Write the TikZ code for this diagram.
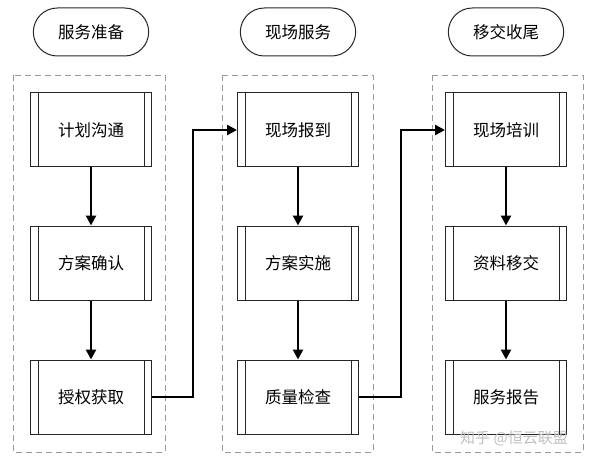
\documentclass[tikz,border=0pt]{standalone}
\usepackage{fontspec}
\setmainfont{Noto Sans CJK SC}
\usetikzlibrary{arrows.meta,shapes.misc}
\begin{document}
\begin{tikzpicture}[x=1pt,y=-1pt,
  term/.style={draw=black!85,line width=1pt,rounded rectangle,minimum width=122pt,minimum height=48pt,font=\fontsize{16.5}{19}\selectfont},
  proc/.style={draw=black!85,line width=1pt,rectangle,minimum width=121pt,minimum height=74pt,font=\fontsize{16.5}{19}\selectfont,
    path picture={\draw[black!85,line width=1pt]
      ([xshift=7.5pt]path picture bounding box.north west) -- ([xshift=7.5pt]path picture bounding box.south west)
      ([xshift=-7.5pt]path picture bounding box.north east) -- ([xshift=-7.5pt]path picture bounding box.south east);}},
  grp/.style={draw=black!40,dash pattern=on 6pt off 4pt,line width=0.9pt},
  flow/.style={line width=2.8pt,-{Triangle[length=10pt,width=10pt]}}
]
\useasboundingbox (0,0) rectangle (593,462);
% groups
\draw[grp] (13,75) rectangle (165,452);
\draw[grp] (222,75) rectangle (373,452);
\draw[grp] (432,75) rectangle (583,452);
% terminators
\node[term] (t1) at (91,32) {服务准备};
\node[term] (t2) at (298,32) {现场服务};
\node[term] (t3) at (506,32) {移交收尾};
% processes
\node[proc] (a1) at (91,130) {计划沟通};
\node[proc] (a2) at (91,263) {方案确认};
\node[proc] (a3) at (91,397) {授权获取};
\node[proc] (b1) at (298,130) {现场报到};
\node[proc] (b2) at (298,263) {方案实施};
\node[proc] (b3) at (298,397) {质量检查};
\node[proc] (c1) at (506,130) {现场培训};
\node[proc] (c2) at (506,263) {资料移交};
\node[proc] (c3) at (506,397) {服务报告};
% arrows
\draw[flow] (a1) -- (a2);
\draw[flow] (a2) -- (a3);
\draw[flow] (b1) -- (b2);
\draw[flow] (b2) -- (b3);
\draw[flow] (c1) -- (c2);
\draw[flow] (c2) -- (c3);
\coordinate (e1a) at (193,397);
\coordinate (e1b) at (193,130);
\coordinate (e2a) at (401,397);
\coordinate (e2b) at (401,130);
\draw[flow] (a3.east) -- (e1a) -- (e1b) -- (b1.west);
\draw[flow] (b3.east) -- (e2a) -- (e2b) -- (c1.west);
% watermark
\node[text=black!25,font=\fontsize{15}{17}\selectfont] (wm) at (514,438) {知乎 @恒云联盟};
\end{tikzpicture}
\end{document}
